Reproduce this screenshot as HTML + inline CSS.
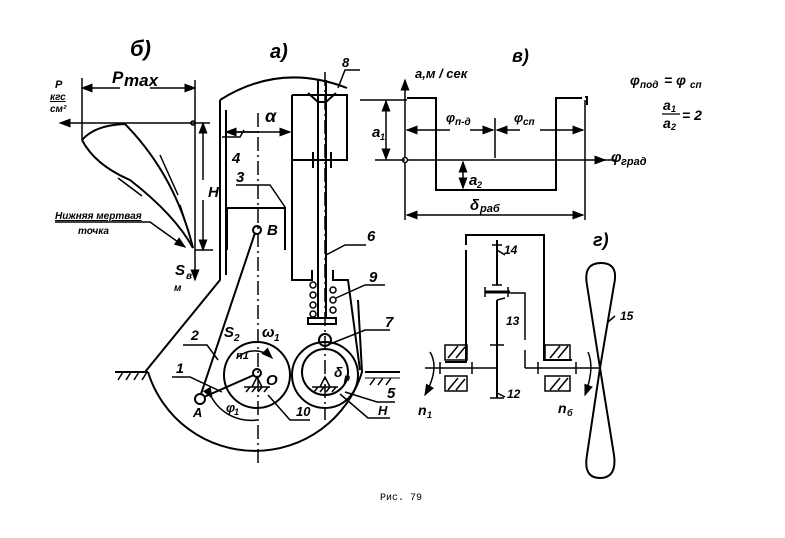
<!DOCTYPE html>
<html><head><meta charset="utf-8"><style>
html,body{margin:0;padding:0;background:#fff;}
svg{display:block;}
text{font-family:"Liberation Sans","DejaVu Sans",sans-serif;font-style:italic;font-weight:bold;fill:#000;}
</style></head><body>
<svg width="785" height="538" viewBox="0 0 785 538" xmlns="http://www.w3.org/2000/svg">
<defs>
<marker id="ar" markerWidth="8" markerHeight="6" refX="7" refY="3" orient="auto"><path d="M0,0 L8,3 L0,6 z" fill="#000"/></marker>
</defs>
<g fill="none" stroke="#000" stroke-width="2">
<path d="M220,100 Q280,62 347,88"/>
<path d="M220,100 L220,280 L145,372"/>
<path d="M226,110 L226,275"/>
<path d="M148,372 A112,112 0 0 0 362,372 L358,300"/>
<line x1="115" y1="372" x2="148" y2="372"/>
<line x1="365" y1="372" x2="400" y2="372"/>
<path d="M365,378 L400,378" stroke-width="1"/>
<path d="M292,95 L347,95 L347,160 L292,160"/>
<path d="M292,95 L292,280 L312,280 L312,270"/>
<path d="M333,270 L333,280 L348,280 L360,370"/>
<line x1="318" y1="80" x2="318" y2="318"/>
<line x1="326" y1="80" x2="326" y2="318"/>
<path d="M308,93 L318,102 L326,102 L336,93"/>
<line x1="313" y1="152" x2="313" y2="168"/>
<line x1="331" y1="152" x2="331" y2="168"/>
<rect x="308" y="318" width="28" height="6"/>
<circle cx="325" cy="340" r="6"/>
<circle cx="325" cy="375" r="33"/>
<circle cx="325" cy="372" r="23"/>
<circle cx="257" cy="375" r="33"/>
<circle cx="257" cy="373" r="4"/>
<circle cx="200" cy="399" r="5"/>
<circle cx="257" cy="230" r="4"/>
<line x1="255" y1="233" x2="201" y2="394"/>
<line x1="254" y1="375" x2="204" y2="397"/>
<path d="M227,250 L227,208 L285,208 L285,250"/>
</g>
<g fill="none" stroke="#000" stroke-width="1.5">
<circle cx="313" cy="285" r="3"/><circle cx="313" cy="295" r="3"/><circle cx="313" cy="305" r="3"/><circle cx="313" cy="314" r="3"/>
<circle cx="333" cy="290" r="3"/><circle cx="333" cy="300" r="3"/><circle cx="333" cy="310" r="3"/>
<line x1="258" y1="113" x2="258" y2="465" stroke-dasharray="14,4,2,4"/>
<line x1="325" y1="72" x2="325" y2="420" stroke-dasharray="14,4,2,4"/>
<path d="M118,380 l5,-8 M126,380 l5,-8 M134,380 l5,-8 M142,380 l5,-8 M370,385 l5,-7 M378,385 l5,-7 M386,385 l5,-7 M246,392 l4,-5 M252,392 l4,-5 M258,392 l4,-5 M264,392 l4,-5 M314,392 l4,-5 M320,392 l4,-5 M326,392 l4,-5 M332,392 l4,-5"/>
<path d="M244,387 L270,387 M252,387 L257,377 L262,387 M312,387 L338,387 M320,387 L325,377 L330,387"/>
<path d="M222,137 L240,137 L244,130"/>
<path d="M236,185 L270,185 L285,207"/>
<path d="M326,255 L345,245 L366,245"/>
<path d="M336,298 L365,285 L385,285"/>
<path d="M330,344 L365,330 L390,330"/>
<path d="M183,345 L207,345 L218,360"/>
<path d="M172,377 L190,377 L222,392"/>
<path d="M268,395 L290,420 L310,420"/>
<path d="M345,392 L377,402 L395,402"/>
<path d="M340,394 L368,418 L390,418"/>
<path d="M338,88 L345,70 L360,70"/>
<line x1="226" y1="132" x2="290" y2="132" marker-end="url(#ar)"/>
<line x1="258" y1="132" x2="226" y2="132" marker-end="url(#ar)"/>
<path d="M238,357 A25,25 0 0 1 272,358" marker-end="url(#ar)"/>
<path d="M212,398 A45,45 0 0 0 257,420" marker-start="url(#ar)"/>
<line x1="82" y1="78" x2="82" y2="140"/>
<line x1="195" y1="80" x2="195" y2="280" marker-end="url(#ar)"/>
<line x1="120" y1="88" x2="82" y2="88" marker-end="url(#ar)"/>
<line x1="150" y1="88" x2="195" y2="88" marker-end="url(#ar)"/>
<line x1="210" y1="123" x2="60" y2="123" marker-end="url(#ar)"/>
<line x1="203" y1="180" x2="203" y2="123" marker-end="url(#ar)"/>
<line x1="203" y1="200" x2="203" y2="250" marker-end="url(#ar)"/>
<line x1="195" y1="250" x2="213" y2="250"/>
<circle cx="193" cy="123" r="2"/>
<path d="M82,140 Q95,125 125,124 Q175,175 193,248" stroke-width="2"/>
<path d="M82,140 Q95,165 130,180 Q175,215 193,248" stroke-width="2"/>
<path d="M160,155 L178,195 M180,205 L188,230 M118,178 L142,196"/>
<path d="M55,222 L150,222 L185,247" marker-end="url(#ar)"/>
<line x1="405" y1="220" x2="405" y2="80" marker-end="url(#ar)"/>
<line x1="405" y1="160" x2="605" y2="160" marker-end="url(#ar)"/>
<circle cx="405" cy="160" r="2.5" fill="#fff"/>
<path d="M407,98 L436,98 L436,190 L556,190 L556,98 L582,98 M585,97 L587,97 L587,105" stroke-width="2"/>
<line x1="585" y1="100" x2="585" y2="220"/>
<line x1="360" y1="100" x2="407" y2="100"/>
<line x1="375" y1="160" x2="405" y2="160"/>
<line x1="386" y1="130" x2="386" y2="101" marker-end="url(#ar)"/>
<line x1="386" y1="130" x2="386" y2="159" marker-end="url(#ar)"/>
<line x1="495" y1="215" x2="407" y2="215" marker-end="url(#ar)"/>
<line x1="495" y1="215" x2="583" y2="215" marker-end="url(#ar)"/>
<line x1="450" y1="130" x2="407" y2="130" marker-end="url(#ar)"/>
<line x1="470" y1="130" x2="493" y2="130" marker-end="url(#ar)"/>
<line x1="520" y1="130" x2="497" y2="130" marker-end="url(#ar)"/>
<line x1="540" y1="130" x2="583" y2="130" marker-end="url(#ar)"/>
<line x1="495" y1="118" x2="495" y2="158"/>
<line x1="463" y1="175" x2="463" y2="162" marker-end="url(#ar)"/>
<line x1="463" y1="175" x2="463" y2="188" marker-end="url(#ar)"/>
<line x1="604" y1="160" x2="615" y2="160"/>
<path d="M466,245 L466,235 L544,235 L544,360 L572,360" stroke-width="2"/>
<path d="M466,250 L466,362 L445,362" stroke-width="2"/>
<line x1="497" y1="240" x2="497" y2="285" stroke-width="2"/>
<line x1="497" y1="300" x2="497" y2="398" stroke-width="2"/>
<line x1="485" y1="292" x2="510" y2="292" stroke-width="3"/>
<path d="M485,287 L485,297 M508,287 L508,297 M510,293 L525,293 L525,340 M525,350 L525,368"/>
<line x1="492" y1="245" x2="502" y2="245"/>
<line x1="492" y1="285" x2="502" y2="285"/>
<line x1="490" y1="345" x2="504" y2="345"/>
<line x1="490" y1="398" x2="504" y2="398"/>
<line x1="425" y1="368" x2="497" y2="368"/>
<line x1="525" y1="368" x2="600" y2="368"/>
<path d="M440,362 L440,374 M472,362 L472,374 M538,362 L538,374 M576,362 L576,374"/>
<rect x="445" y="345" width="22" height="15"/><rect x="445" y="376" width="22" height="15"/>
<rect x="545" y="345" width="25" height="15"/><rect x="545" y="376" width="25" height="15"/>
<path d="M448,358 l10,-12 M456,358 l9,-11 M448,390 l10,-12 M456,390 l9,-11 M550,358 l10,-12 M558,358 l10,-12 M550,390 l10,-12 M558,390 l10,-12"/>
<path d="M430,352 Q440,368 425,395" marker-end="url(#ar)"/>
<path d="M588,352 Q595,368 585,395" marker-end="url(#ar)"/>
<path d="M600,368 L587,285 Q583,263 601,263 Q619,263 614,285 L600,368 L587,455 Q583,478 600,478 Q617,478 614,455 Z" stroke-width="2"/>
<path d="M608,322 L615,316"/>
<path d="M497,250 L505,255 M497,300 L505,298 M497,393 L505,397"/>
</g>
<g font-size="16">
<text x="130" y="56" font-size="22">б)</text>
<text x="270" y="58" font-size="20">а)</text>
<text x="512" y="62" font-size="18">в)</text>
<text x="593" y="246" font-size="18">г)</text>
<text x="112" y="83" font-size="17">P</text>
<text x="124" y="86" font-size="17">max</text>
<text x="55" y="88" font-size="11">P</text>
<text x="50" y="100" font-size="10" text-decoration="underline">кгс</text>
<text x="50" y="112" font-size="10">см²</text>
<text x="208" y="197" font-size="15">H</text>
<text x="55" y="219" font-size="10" text-decoration="underline">Нижняя мертвая</text>
<text x="78" y="234" font-size="10">точка</text>
<text x="175" y="275" font-size="15">S</text><text x="186" y="279" font-size="10">в</text>
<text x="174" y="291" font-size="10">м</text>
<text x="265" y="122" font-size="18">α</text>
<text x="232" y="163" font-size="15">4</text>
<text x="236" y="182" font-size="15">3</text>
<text x="267" y="235" font-size="15">B</text>
<text x="342" y="67" font-size="13">8</text>
<text x="367" y="241" font-size="15">6</text>
<text x="369" y="282" font-size="15">9</text>
<text x="385" y="327" font-size="15">7</text>
<text x="387" y="398" font-size="15">5</text>
<text x="378" y="415" font-size="13">H</text>
<text x="296" y="416" font-size="13">10</text>
<text x="191" y="340" font-size="14">2</text>
<text x="176" y="373" font-size="14">1</text>
<text x="224" y="337" font-size="15">S</text><text x="234" y="341" font-size="10">2</text>
<text x="262" y="337" font-size="15">ω</text><text x="274" y="341" font-size="10">1</text>
<text x="236" y="359" font-size="11">n1</text>
<text x="266" y="385" font-size="15">O</text>
<text x="334" y="377" font-size="14">δ</text><text x="344" y="381" font-size="10">р</text>
<text x="193" y="417" font-size="13">A</text>
<text x="226" y="412" font-size="13">φ</text><text x="234" y="415" font-size="9">1</text>
<text x="415" y="78" font-size="13">a,м / сек</text>
<text x="372" y="137" font-size="15">a</text><text x="380" y="140" font-size="9">1</text>
<text x="446" y="122" font-size="13">φ</text><text x="455" y="125" font-size="10">п-д</text>
<text x="514" y="122" font-size="13">φ</text><text x="523" y="125" font-size="10">сп</text>
<text x="611" y="162" font-size="15">φ</text><text x="621" y="165" font-size="11">град</text>
<text x="469" y="185" font-size="15">a</text><text x="477" y="188" font-size="9">2</text>
<text x="470" y="210" font-size="15">δ</text><text x="480" y="212" font-size="11">раб</text>
<text x="630" y="85" font-size="14">φ</text><text x="640" y="88" font-size="10">под</text><text x="664" y="85" font-size="14">= φ</text><text x="690" y="88" font-size="10">сп</text>
<text x="663" y="110" font-size="14">a</text><text x="671" y="112" font-size="9">1</text>
<line x1="662" y1="114" x2="680" y2="114" stroke="#000" stroke-width="1.2"/>
<text x="663" y="128" font-size="14">a</text><text x="671" y="130" font-size="9">2</text>
<text x="682" y="120" font-size="14">= 2</text>
<text x="504" y="254" font-size="12">14</text>
<text x="506" y="325" font-size="12">13</text>
<text x="507" y="398" font-size="12">12</text>
<text x="620" y="320" font-size="12">15</text>
<text x="418" y="415" font-size="14">n</text><text x="427" y="418" font-size="9">1</text>
<text x="558" y="413" font-size="14">n</text><text x="567" y="416" font-size="9">б</text>
<text x="380" y="500" font-size="10" style="font-style:normal;font-weight:normal;font-family:'Liberation Mono',monospace">Рис. 79</text>
</g>
</svg>
</body></html>
